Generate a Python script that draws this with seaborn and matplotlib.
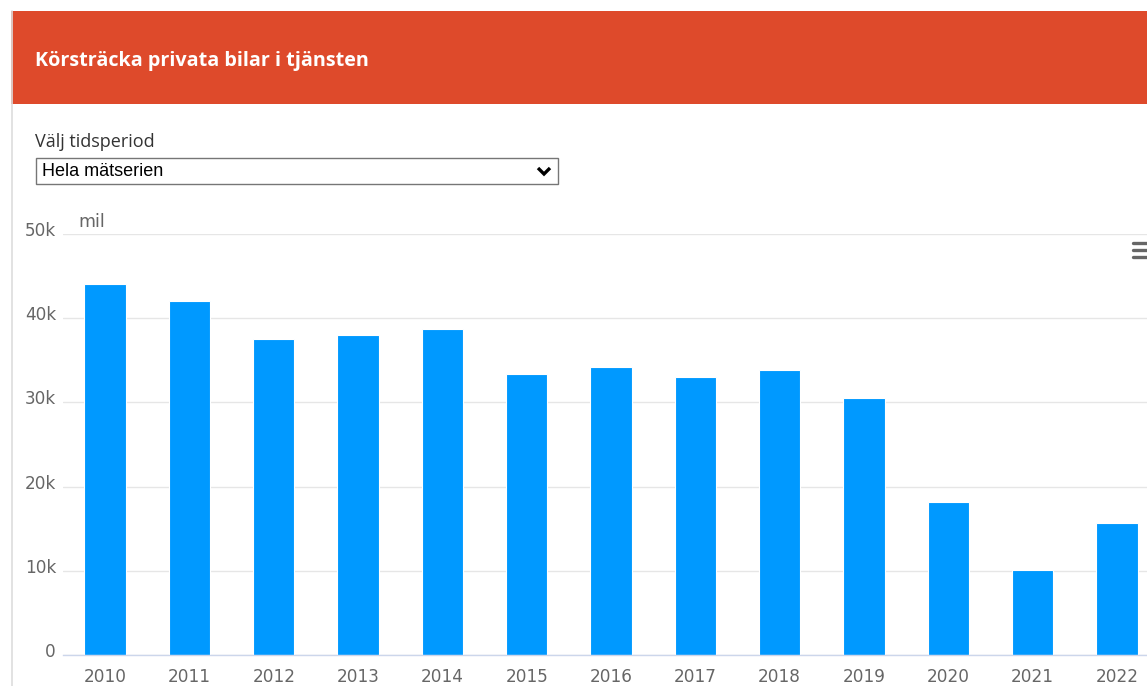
import matplotlib
matplotlib.use("Agg")
import matplotlib.pyplot as plt
from matplotlib.patches import Rectangle
from matplotlib.lines import Line2D
import matplotlib.transforms as mtransforms
import seaborn as sns
import numpy as np

years = ["2010", "2011", "2012", "2013", "2014", "2015", "2016",
         "2017", "2018", "2019", "2020", "2021", "2022"]
values = [44100, 42000, 37500, 38000, 38700, 33400, 34200,
          33000, 33800, 30500, 18200, 10100, 15700]
y_ticks = [0, 10000, 20000, 30000, 40000, 50000]
y_tick_labels = ["0", "10k", "20k", "30k", "40k", "50k"]

title = "Körsträcka privata bilar i tjänsten"
period_label = "Välj tidsperiod"
period_choice = "Hela mätserien"
unit_label = "mil"

sns.set_theme(style="white")
plt.rcParams['font.family'] = ['DejaVu Sans']

W, H = 1147, 686
fig = plt.figure(figsize=(W / 100, H / 100), dpi=100)
fig.patch.set_facecolor("white")

def fx(px):
    return px / W

def fy(py):
    return 1 - py / H

# header bar
fig.patches.append(Rectangle((fx(11), fy(104)), fx(W - 11), (93) / H,
                             transform=fig.transFigure, facecolor="#DE4A2B",
                             edgecolor="none", zorder=0))
# left panel border
fig.lines.append(Line2D([fx(11.5), fx(11.5)], [fy(11), 0], transform=fig.transFigure,
                        color="#dddddd", lw=1.2))
fig.text(fx(35), fy(61), title, color="white", fontsize=14.2, fontweight="bold",
         family="Open Sans", va="center", ha="left")

fig.text(fx(35), fy(142), period_label, color="#333333", fontsize=13,
         family="Open Sans", va="center", ha="left")
# dropdown box
fig.patches.append(Rectangle((fx(35.5), fy(184)), fx(522), 26 / H,
                             transform=fig.transFigure, facecolor="white",
                             edgecolor="#767676", lw=1.0))
fig.text(fx(42), fy(171), period_choice, color="black", fontsize=13,
         family="Liberation Sans", va="center", ha="left")
fig.lines.append(Line2D([fx(538), fx(544), fx(550)], [fy(168), fy(174), fy(168)],
                        transform=fig.transFigure, color="black", lw=2.4,
                        solid_capstyle="butt", solid_joinstyle="miter"))

# chart axes (extends beyond right edge, as in reference)
left, right = 63, 1159
top, bottom = 234, 655
ax = fig.add_axes([fx(left), fy(bottom), (right - left) / W, (bottom - top) / H])
ax.set_facecolor("none")

sns.barplot(x=years, y=values, color="#0099FF", saturation=1, width=0.49,
            edgecolor="white", linewidth=0.8, ax=ax, zorder=3)

ax.set_xlim(-0.5, len(years) - 0.5)
ax.set_ylim(0, 50000)
ax.set_yticks(y_ticks)
ax.set_yticklabels(y_tick_labels)
ax.set_xlabel("")
ax.set_ylabel("")
ax.yaxis.grid(True, color="#e6e6e6", lw=1.0, zorder=0)
ax.xaxis.grid(False)
for s in ["top", "right", "left"]:
    ax.spines[s].set_visible(False)
ax.spines["bottom"].set_color("#ccd6eb")
ax.spines["bottom"].set_linewidth(1.0)
ax.spines["bottom"].set_zorder(4)

ax.set_xticks(np.arange(-0.5, len(years), 1.0), minor=True)
ax.tick_params(axis="x", which="minor", length=9, width=1, color="#ccd6eb", direction="out")
ax.tick_params(axis="x", which="major", length=0, pad=9, labelsize=12.2, labelcolor="#666666")
ax.tick_params(axis="y", length=0, pad=5, labelsize=12.2, labelcolor="#666666")
offset = mtransforms.ScaledTranslation(0, 3 / 100, fig.dpi_scale_trans)
for lab in ax.get_yticklabels():
    lab.set_verticalalignment("center")
    lab.set_transform(lab.get_transform() + offset)

fig.text(fx(78), fy(222), unit_label, color="#666666", fontsize=12.5,
         va="center", ha="left")

# hamburger menu icon
fig.patches.append(Rectangle((fx(1129), fy(262)), fx(20), 26 / H,
                             transform=fig.transFigure, facecolor="white",
                             edgecolor="none", zorder=5))
for yy in (243, 250, 257):
    fig.lines.append(Line2D([fx(1133), fx(1147)], [fy(yy), fy(yy)],
                            transform=fig.transFigure, color="#666666", lw=2.4,
                            zorder=6))

fig.savefig("out.png", dpi=100)
